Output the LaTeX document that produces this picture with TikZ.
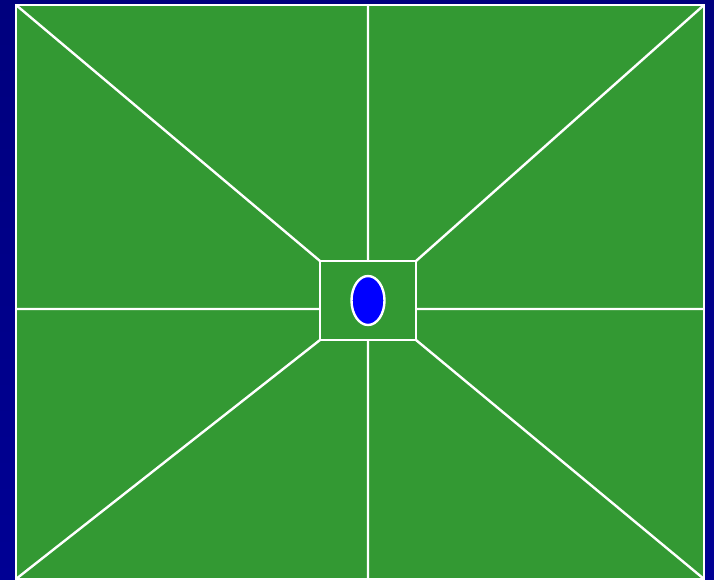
\documentclass[tikz,border=0pt]{standalone}
\usetikzlibrary{shapes.geometric}
\definecolor{bgblue}{RGB}{0,0,148}
\definecolor{field}{RGB}{51,153,51}
\definecolor{ballblue}{RGB}{0,0,255}
\begin{document}
\begin{tikzpicture}[x=1pt,y=-1pt,
  wline/.style={draw=white,line width=2.4pt},
  box/.style={wline,fill=field}]
\useasboundingbox (0,0) rectangle (714,580);
\shade[top color=bgblue!85!black,bottom color=bgblue] (0,0) rectangle (714,580);
% outer field
\coordinate (TL) at (16,5);
\coordinate (TR) at (704,5);
\coordinate (BL) at (16,579);
\coordinate (BR) at (704,579);
\coordinate (TM) at (368,5);
\coordinate (BM) at (368,579);
\coordinate (LM) at (16,309);
\coordinate (RM) at (704,309);
\path[box] (TL) rectangle (BR);
% centre box corners
\coordinate (ctl) at (320,261);
\coordinate (ctr) at (416,261);
\coordinate (cbl) at (320,340);
\coordinate (cbr) at (416,340);
\coordinate (ctm) at (368,261);
\coordinate (cbm) at (368,340);
\coordinate (clm) at (320,309);
\coordinate (crm) at (416,309);
\draw[wline] (TL) -- (ctl) (TR) -- (ctr) (BL) -- (cbl) (BR) -- (cbr)
  (TM) -- (ctm) (BM) -- (cbm) (LM) -- (clm) (RM) -- (crm);
\draw[wline] (ctl) rectangle (cbr);
\node[ellipse,draw=white,line width=2.4pt,fill=ballblue,minimum width=33pt,minimum height=49pt,inner sep=0pt] (ball) at (368,300.5) {};
\draw[wline] (TL) rectangle (BR);
\end{tikzpicture}
\end{document}
